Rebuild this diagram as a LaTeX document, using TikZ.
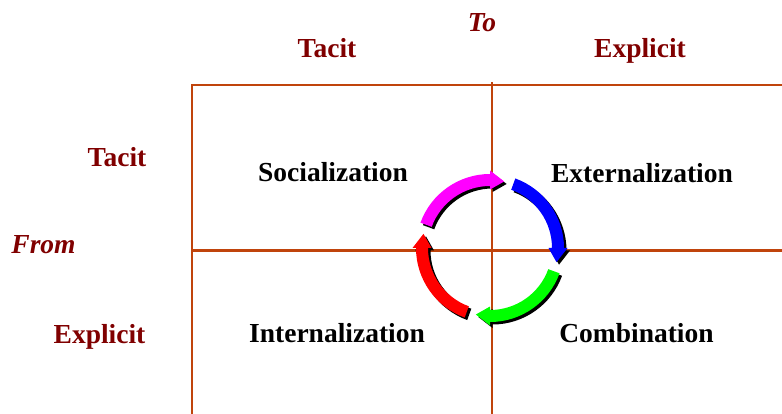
\documentclass[tikz,border=0pt]{standalone}
\usepackage{fontspec}
\setmainfont{Liberation Serif}
\definecolor{gridline}{RGB}{192,68,12}
\definecolor{darkred}{RGB}{128,0,0}
\definecolor{amag}{RGB}{255,0,255}
\definecolor{ablue}{RGB}{0,0,255}
\definecolor{agreen}{RGB}{0,255,0}
\definecolor{ared}{RGB}{255,0,0}
\newcommand\kwarr[2]{%
  \begin{scope}[shift={(490,248)},yscale=-1]
    \pgfmathsetmacro\tb{#1-70}
    \pgfmathsetmacro\tp{#1-82}
    \fill[black,shift={(2.5,-2.5)}] (#1:74) arc[start angle=#1,end angle=\tb,radius=74]
      -- (\tb:77.5) -- (\tp:68) -- (\tb:58.5) -- (\tb:62)
      arc[start angle=\tb,end angle=#1,radius=62] -- cycle;
    \fill[#2] (#1:74) arc[start angle=#1,end angle=\tb,radius=74]
      -- (\tb:77.5) -- (\tp:68) -- (\tb:58.5) -- (\tb:62)
      arc[start angle=\tb,end angle=#1,radius=62] -- cycle;
  \end{scope}}
\begin{document}
\begin{tikzpicture}[x=1pt,y=-1pt,
  gl/.style={draw=gridline,line width=2.2pt},
  hdr/.style={text=darkred,font=\fontsize{27.5}{30}\selectfont\bfseries,anchor=base,inner sep=0pt},
  hdri/.style={hdr,font=\fontsize{27.5}{30}\selectfont\bfseries\itshape},
  mode/.style={text=black,font=\fontsize{27.5}{30}\selectfont\bfseries,anchor=base,inner sep=0pt}]
\useasboundingbox (0,0) rectangle (782,414);
% grid
\coordinate (tl) at (192,85);
\coordinate (tr) at (782,85);
\coordinate (ml) at (192,250.5);
\coordinate (mr) at (782,250.5);
\coordinate (bl) at (192,414);
\coordinate (mt) at (492,82);
\coordinate (mb) at (492,414);
\draw[gl] (tr) -- (tl) -- (bl);
\draw[gl] (ml) -- (mr);
\draw[gl] (mt) -- (mb);
% headers
\node[hdri] (to) at (482,32) {To};
\node[hdr] (totacit) at (327,58) {Tacit};
\node[hdr] (toexpl) at (640,58) {Explicit};
\node[hdr] (fromtacit) at (117,167) {Tacit};
\node[hdri] (from) at (43.5,254) {From};
\node[hdr] (fromexpl) at (99.5,343) {Explicit};
% modes
\node[mode] (soc) at (333,182) {Socialization};
\node[mode] (ext) at (642,182.5) {Externalization};
\node[mode] (int) at (337,342.5) {Internalization};
\node[mode] (com) at (636.5,342) {Combination};
% cycle arrows
\kwarr{160}{amag}
\kwarr{70}{ablue}
\kwarr{-20}{agreen}
\kwarr{-110}{ared}
\end{tikzpicture}
\end{document}
